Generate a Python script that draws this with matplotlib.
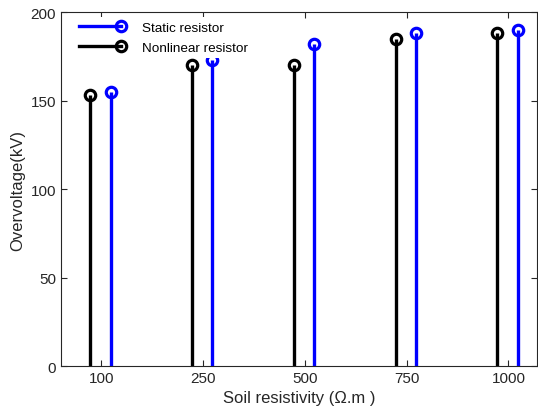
import numpy as np
import matplotlib.pyplot as plt
from matplotlib.lines import Line2D
from matplotlib.legend_handler import HandlerLine2D

plt.rcParams['font.family'] = ['Liberation Sans', 'DejaVu Sans']

rho_labels = ['100', '250', '500', '750', '1000']
static_kv = [155, 173, 182, 188, 190]
nonlinear_kv = [153, 170, 170, 185, 188]


# legend handle: line with the marker at its right end
class RightMarker(HandlerLine2D):
    def create_artists(self, legend, orig_handle, xdescent, ydescent,
                       width, height, fontsize, trans):
        xdata = [-xdescent, -xdescent + width]
        yc = (height - ydescent) / 2
        line = Line2D(xdata, [yc, yc], markevery=[1])
        self.update_prop(line, orig_handle, legend)
        line.set_transform(trans)
        return [line]


fig = plt.figure(figsize=(5.38, 4.14), dpi=100)
ax = fig.add_axes([0.113, 0.1135, 0.885, 0.855])

pos = np.arange(1, len(rho_labels) + 1)

def stems(x, y, color):
    ml, sl, bl = ax.stem(x, y, basefmt=' ')
    sl.set_color(color)
    sl.set_linewidth(2.4)
    ml.set_markerfacecolor('none')
    ml.set_markeredgecolor(color)
    ml.set_markeredgewidth(2.3)
    ml.set_markersize(7.5)
    bl.set_visible(False)

stems(pos + 0.09, static_kv, 'blue')
stems(pos - 0.11, nonlinear_kv, 'black')

ax.set_xlim(0.6, 5.28)
ax.set_ylim(0, 200)
ax.set_xticks(pos)
ax.set_xticklabels(rho_labels)
ax.set_yticks([0, 50, 100, 150, 200])
ax.tick_params(direction='in', top=True, right=True, labelsize=11,
               colors='#262626', length=4)
for s in ax.spines.values():
    s.set_color('#262626')

ax.set_xlabel('Soil resistivity (\u03a9.m )', fontsize=12, color='#262626')
ax.set_ylabel('Overvoltage(kV)', fontsize=12, color='#262626')

h1 = Line2D([], [], color='blue', lw=2.4, marker='o', mfc='none', mew=2.3, ms=7.5)
h2 = Line2D([], [], color='black', lw=2.4, marker='o', mfc='none', mew=2.3, ms=7.5)
leg = ax.legend([h1, h2], ['Static resistor', 'Nonlinear resistor'],
                loc='upper left', bbox_to_anchor=(0.0294, 0.985),
                fontsize=9.7, handlelength=3.1,
                handler_map={Line2D: RightMarker()},
                framealpha=1, edgecolor='none', fancybox=False,
                borderaxespad=0, labelspacing=0.55, handletextpad=1.6,
                borderpad=0.3)
leg.set_zorder(5)

fig.savefig('out.png', dpi=100)
